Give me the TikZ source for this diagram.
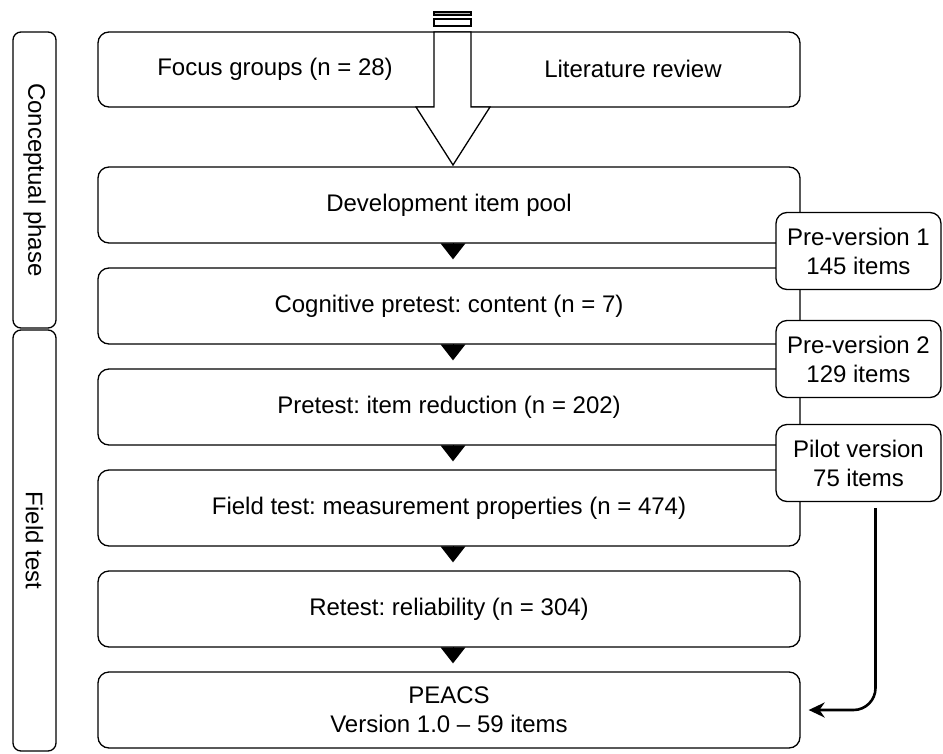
\documentclass[tikz,border=0pt]{standalone}
\usepackage{fontspec}
\setmainfont{Liberation Sans}
\usetikzlibrary{arrows.meta, positioning, calc}
\frenchspacing

\begin{document}
\begin{tikzpicture}[x=1pt,y=-1pt,
  box/.style={draw,rounded corners=11pt,line width=1.3pt,fill=white,
              minimum width=702pt,minimum height=76pt,inner sep=0pt,
              align=center,font=\fontsize{24}{29}\selectfont},
  sidebox/.style={box,minimum width=165pt,minimum height=77pt},
  phase/.style={draw,rounded corners=8pt,line width=1.3pt,minimum height=43pt,
                inner sep=0pt,rotate=-90,font=\fontsize{24}{29}\selectfont},
  txt/.style={font=\fontsize{24}{29}\selectfont},
  tri/.style={-{Triangle[width=25pt,length=16pt]},line width=0pt,shorten >=8pt},
  arr/.style={-{Stealth[length=16pt,width=15pt]},line width=2.6pt,
              rounded corners=22pt,shorten >=8pt}
]
\useasboundingbox (0,0) rectangle (943,753);

% phases on the left
\node[phase,minimum width=296pt] (concept) at (34.5,180) {Conceptual phase};
\node[phase,minimum width=421pt] (field)   at (34.5,540.5) {Field test};

% sources
\node[box,minimum height=75pt] (src) at (449,69.5) {};
\node[txt] (focus) at (275,69) {Focus groups (n = 28)};
\node[txt] (lit)   at (633,69) {Literature review};

% big arrow into the item pool
\draw[line width=1.3pt,fill=gray!60] (434,12) rectangle (471,15);
\draw[line width=1.3pt,fill=white] (434,19) rectangle (471,26);
\draw[line width=1.3pt,fill=white] (434,32) -- (434,107) -- (416,107) -- (453,165)
  -- (490,107) -- (471,107) -- (471,32) -- cycle;

% main steps
\node[box] (pool)   at (449,205) {Development item pool};
\node[box] (cogn)   at (449,306) {Cognitive pretest: content (n = 7)};
\node[box] (reduc)  at (449,407) {Pretest: item reduction (n = 202)};
\node[box] (meas)   at (449,508) {Field test: measurement properties (n = 474)};
\node[box] (retest) at (449,609) {Retest: reliability (n = 304)};
\node[box] (peacs)  at (449,710) {PEACS\\Version 1.0 -- 59 items};

\draw[tri] ([xshift=4pt]pool.south)   -- ([xshift=4pt]cogn.north);
\draw[tri] ([xshift=4pt]cogn.south)   -- ([xshift=4pt]reduc.north);
\draw[tri] ([xshift=4pt]reduc.south)  -- ([xshift=4pt]meas.north);
\draw[tri] ([xshift=4pt]meas.south)   -- ([xshift=4pt]retest.north);
\draw[tri] ([xshift=4pt]retest.south) -- ([xshift=4pt]peacs.north);

% versions
\node[sidebox] (pre1)  at (858.5,251) {Pre-version 1\\145 items};
\node[sidebox] (pre2)  at (858.5,359) {Pre-version 2\\129 items};
\node[sidebox] (pilot) at (858.5,463) {Pilot version\\75 items};

\draw[arr] ([xshift=17pt,yshift=-6pt]pilot.south) |- (peacs.east);
\end{tikzpicture}
\end{document}
